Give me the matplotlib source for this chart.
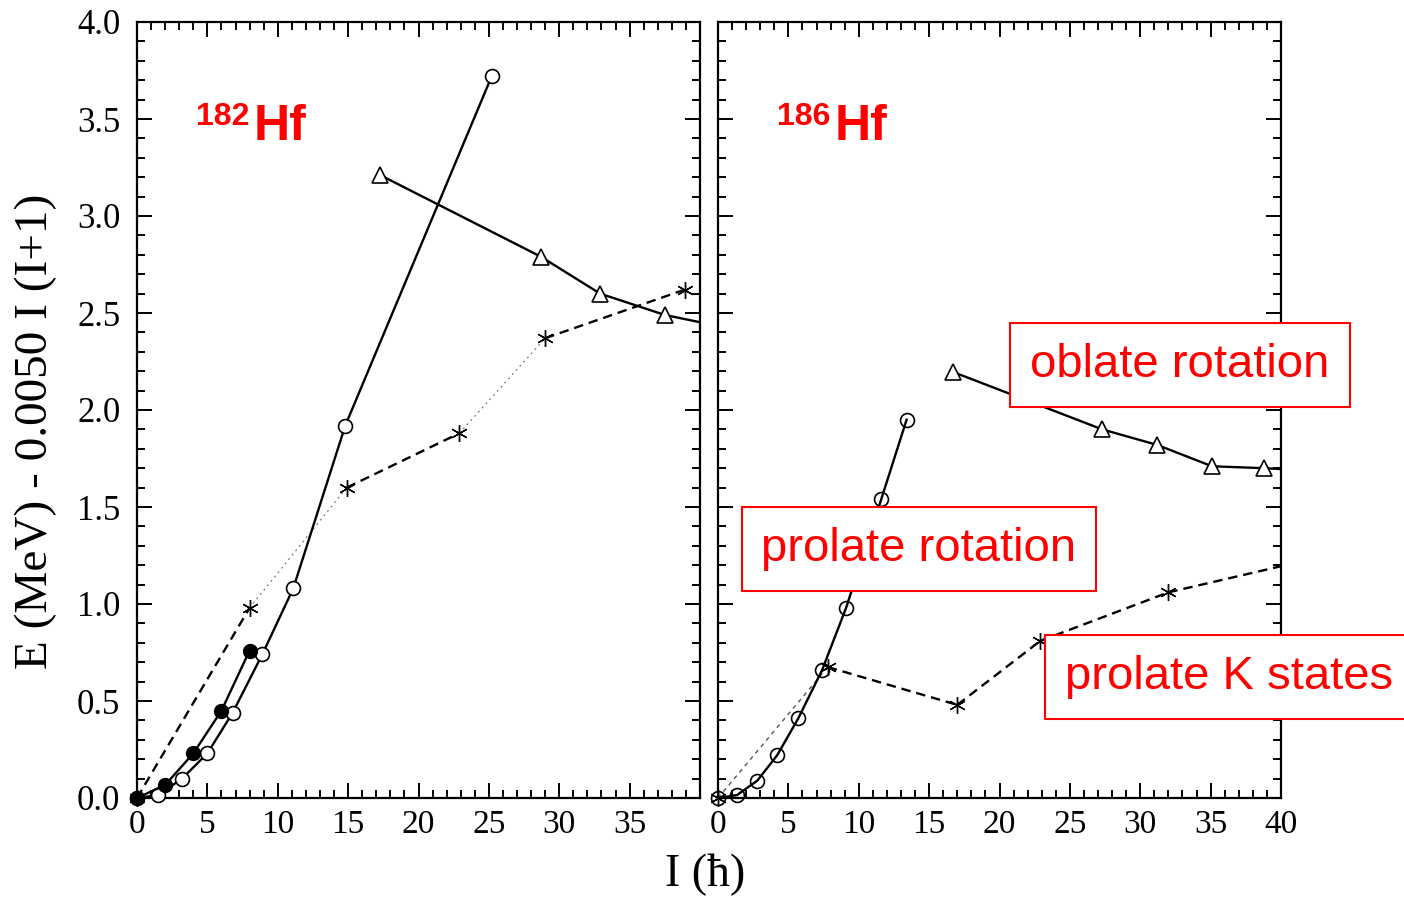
import numpy as np
import matplotlib
matplotlib.use('Agg')
from matplotlib import pyplot as plt
import matplotlib.ticker as ticker

# ---- 182Hf (left panel) ----
hf182_circ_open_x = [0.0, 1.5, 3.2, 5.0, 6.8, 8.9, 11.1, 14.8, 25.2]
hf182_circ_open_y = [0.0, 0.015, 0.10, 0.23, 0.44, 0.74, 1.08, 1.92, 3.72]
hf182_circ_fill_x = [0.0, 2.0, 4.0, 6.0, 8.0]
hf182_circ_fill_y = [0.0, 0.067, 0.23, 0.45, 0.76]
hf182_star_x = [0.0, 8.0, 14.9, 22.9, 29.0, 38.9]
hf182_star_y = [0.0, 0.98, 1.60, 1.88, 2.37, 2.62]
hf182_tri_x = [17.3, 28.7, 32.9, 37.5, 41.5]
hf182_tri_y = [3.21, 2.79, 2.60, 2.49, 2.43]

# ---- 186Hf (right panel) ----
hf186_circ_x = [0.0, 1.35, 2.8, 4.2, 5.7, 7.4, 9.1, 11.6, 13.4]
hf186_circ_y = [0.0, 0.015, 0.09, 0.22, 0.41, 0.66, 0.98, 1.54, 1.95]
hf186_star_x = [0.0, 7.8, 17.0, 22.9, 32.0, 41.5]
hf186_star_y = [0.0, 0.675, 0.48, 0.81, 1.06, 1.22]
hf186_tri_x = [16.7, 27.3, 31.2, 35.1, 38.8, 41.5]
hf186_tri_y = [2.196, 1.90, 1.82, 1.71, 1.70, 1.69]

x_ticks_left = [0, 5, 10, 15, 20, 25, 30, 35]
x_ticks_right = [0, 5, 10, 15, 20, 25, 30, 35, 40]
y_ticks = [0.0, 0.5, 1.0, 1.5, 2.0, 2.5, 3.0, 3.5, 4.0]

SERIF = 'Liberation Serif'
SANS = 'Liberation Sans'
RED = '#ff0000'

DASH = dict(color='black', lw=1.7, ls=(0, (4, 2.5)))
THIN = dict(color='#777777', lw=0.9, ls=(0, (1.5, 3)))
THIN_DASH = dict(color='#555555', lw=1.0, ls=(0, (3, 3)))


def style_axis(ax, xticks, show_y):
    ax.set_xlim(0, 40)
    ax.set_ylim(0, 4.0)
    ax.set_xticks(xticks)
    ax.set_yticks(y_ticks)
    ax.xaxis.set_minor_locator(ticker.MultipleLocator(1))
    ax.yaxis.set_minor_locator(ticker.MultipleLocator(0.1))
    ax.tick_params(which='both', direction='in', top=True, right=True,
                   width=1.4)
    ax.tick_params(which='major', length=11)
    ax.tick_params(which='minor', length=6)
    ax.tick_params(axis='x', pad=8, labelsize=24)
    ax.tick_params(axis='y', pad=12, labelsize=25)
    ax.xaxis.set_major_formatter(ticker.FormatStrFormatter('%d'))
    ax.yaxis.set_major_formatter(ticker.FormatStrFormatter('%.1f'))
    if not show_y:
        ax.set_yticklabels([])
    for lab in ax.get_xticklabels() + ax.get_yticklabels():
        lab.set_family(SERIF)
    for sp in ax.spines.values():
        sp.set_linewidth(1.6)


def draw_segments(ax, x, y, styles):
    for i, st in enumerate(styles):
        ax.plot(x[i:i + 2], y[i:i + 2], **st)
    x = np.asarray(x)
    y = np.asarray(y)
    inside = x <= 40
    ax.plot(x[inside], y[inside], ls='none', marker=(6, 2, 0), ms=12,
            mec='black', mew=1.0, clip_on=False, zorder=4)


fig = plt.figure(figsize=(14.04, 8.98), dpi=100)
ax1 = fig.add_axes([137 / 1404, 100 / 898, 563 / 1404, 776 / 898])
ax2 = fig.add_axes([718 / 1404, 100 / 898, 563 / 1404, 776 / 898])

# left panel
draw_segments(ax1, hf182_star_x, hf182_star_y, [DASH, THIN, DASH, THIN, DASH])
ax1.plot(hf182_tri_x, hf182_tri_y, color='black', lw=1.7, marker='^', ms=11,
         mfc='white', mec='black', mew=1.2)
ax1.plot(hf182_circ_open_x, hf182_circ_open_y, color='black', lw=1.7,
         marker='o', ms=10, mfc='white', mec='black', mew=1.2, clip_on=False,
         zorder=3)
ax1.plot(hf182_circ_fill_x, hf182_circ_fill_y, color='black', lw=1.7,
         marker='o', ms=10, mfc='black', mec='black', clip_on=False,
         zorder=5)
style_axis(ax1, x_ticks_left, True)

# right panel
draw_segments(ax2, hf186_star_x, hf186_star_y,
              [THIN_DASH, DASH, DASH, DASH, DASH])
ax2.plot(hf186_tri_x, hf186_tri_y, color='black', lw=1.7, marker='^', ms=11,
         mfc='white', mec='black', mew=1.2)
ax2.plot(hf186_circ_x, hf186_circ_y, color='black', lw=1.7, marker='o',
         ms=10, mfc='none', mec='black', mew=1.2, clip_on=False, zorder=3)
style_axis(ax2, x_ticks_right, False)

# isotope labels
for ax, mass in ((ax1, '182'), (ax2, '186')):
    ax.text(4.2, 3.47, mass, color=RED, fontsize=23, fontweight='bold',
            family=SANS, va='baseline')
    ax.text(8.3, 3.39, 'Hf', color=RED, fontsize=36, fontweight='bold',
            family=SANS, va='baseline')

ax1.set_ylabel('E (MeV) - 0.0050 I (I+1)', family=SERIF, fontsize=34)
ax1.yaxis.set_label_coords(-0.142, 0.472)
fig.text(705 / 1404, 1 - 875 / 898, 'I (ħ)', family=SERIF, fontsize=33,
         ha='center', va='center')

# red annotation boxes
box = dict(boxstyle='square,pad=0.42', fc='white', ec=RED, lw=1.5)
fig.text(1180 / 1404, 1 - 365 / 898, 'oblate rotation', color=RED,
         family=SANS, fontsize=34, ha='center', va='center', bbox=box,
         zorder=10)
fig.text(919 / 1404, 1 - 549 / 898, 'prolate rotation', color=RED,
         family=SANS, fontsize=34, ha='center', va='center', bbox=box,
         zorder=10)
fig.text(1065 / 1404, 1 - 677 / 898, 'prolate K states', color=RED,
         family=SANS, fontsize=34, ha='left', va='center', bbox=box,
         zorder=10)

fig.savefig('out.png', dpi=100)
plt.close()
